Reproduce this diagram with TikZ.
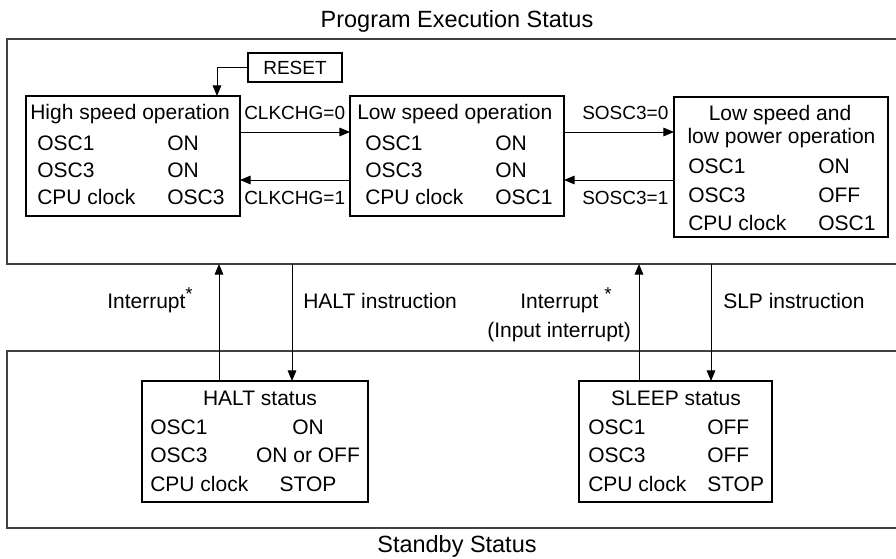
\documentclass[tikz,border=0pt]{standalone}
\usepackage{fontspec}
\setmainfont{Liberation Sans}
\usetikzlibrary{arrows.meta}
\begin{document}
\begin{tikzpicture}[x=0.75pt,y=-0.75pt,
  box/.style={draw,line width=1.4pt,inner sep=0,outer sep=0},
  frame/.style={draw=black!75,line width=0.8pt,inner sep=0,outer sep=0},
  arr/.style={line width=0.75pt,-{Triangle[length=8pt,width=6.5pt]}},
  txt/.style={inner sep=0,anchor=base west,font=\fontsize{15.75pt}{18pt}\selectfont},
  ctxt/.style={txt,anchor=base},
  lbl/.style={inner sep=0,anchor=base west,font=\fontsize{14.25pt}{16pt}\selectfont},
  ttl/.style={inner sep=0,anchor=base,font=\fontsize{17.6pt}{20pt}\selectfont}]
\newcommand{\astk}{{\fontsize{14pt}{14pt}\selectfont\raisebox{5.5pt}{*}}}
\useasboundingbox (0,0) rectangle (896,558);
% frames
\node[frame,minimum width=673.5pt,minimum height=168.75pt] (pes) at (456,151.5) {};
\node[frame,minimum width=673.5pt,minimum height=132.75pt] (sb) at (456,439.5) {};
\node[ttl] (pestitle) at (457,27) {Program Execution Status};
\node[ttl] (sbtitle) at (457,552) {Standby Status};
% boxes
\node[box,minimum width=160.5pt,minimum height=90pt] (hs) at (133,156) {};
\node[box,minimum width=160.5pt,minimum height=90pt] (ls) at (457,156) {};
\node[box,minimum width=160.5pt,minimum height=105pt] (lp) at (781,167) {};
\node[box,line width=1.1pt,minimum width=70.5pt,minimum height=21.75pt] (reset) at (295,67.5) {};
\node[lbl,anchor=center] (resettxt) at (reset.center) {RESET};
\node[box,minimum width=169.5pt,minimum height=90.75pt] (halt) at (255,441.5) {};
\node[box,minimum width=144.75pt,minimum height=90.75pt] (sleep) at (675.5,441.5) {};
% high speed
\node[txt] (hs0) at (30,119) {High speed operation};
\node[txt] (hs1) at (37,150) {OSC1};
\node[txt] (hs2) at (37,177) {OSC3};
\node[txt] (hs3) at (37,204) {CPU clock};
\node[txt] (hs1v) at (167,150) {ON};
\node[txt] (hs2v) at (167,177) {ON};
\node[txt] (hs3v) at (167,204) {OSC3};
% low speed
\node[txt] (ls0) at (357,119) {Low speed operation};
\node[txt] (ls1) at (365,150) {OSC1};
\node[txt] (ls2) at (365,177) {OSC3};
\node[txt] (ls3) at (365,204) {CPU clock};
\node[txt] (ls1v) at (495,150) {ON};
\node[txt] (ls2v) at (495,177) {ON};
\node[txt] (ls3v) at (495,204) {OSC1};
% low power
\node[ctxt] (lp0) at (780,120) {Low speed and};
\node[ctxt] (lp0b) at (781.5,143) {low power operation};
\node[txt] (lp1) at (688,173) {OSC1};
\node[txt] (lp2) at (688,202) {OSC3};
\node[txt] (lp3) at (688,230) {CPU clock};
\node[txt] (lp1v) at (818,173) {ON};
\node[txt] (lp2v) at (818,202) {OFF};
\node[txt] (lp3v) at (818,230) {OSC1};
% halt
\node[ctxt] (h0) at (260,405) {HALT status};
\node[txt] (h1) at (150,434) {OSC1};
\node[txt] (h2) at (150,462) {OSC3};
\node[txt] (h3) at (150,491) {CPU clock};
\node[ctxt] (h1v) at (308,434) {ON};
\node[ctxt] (h2v) at (308,462) {ON or OFF};
\node[ctxt] (h3v) at (308,491) {STOP};
% sleep
\node[ctxt] (s0) at (676,405) {SLEEP status};
\node[txt] (s1) at (588,434) {OSC1};
\node[txt] (s2) at (588,462) {OSC3};
\node[txt] (s3) at (588,491) {CPU clock};
\node[txt] (s1v) at (707,434) {OFF};
\node[txt] (s2v) at (707,462) {OFF};
\node[txt] (s3v) at (707,491) {STOP};
% horizontal connectors
\draw[arr] (hs.east |- 0,132) -- (ls.west |- 0,132);
\draw[arr] (ls.west |- 0,180) -- (hs.east |- 0,180);
\draw[arr] (ls.east |- 0,132) -- (lp.west |- 0,132);
\draw[arr] (lp.west |- 0,180) -- (ls.east |- 0,180);
\node[lbl] (c0) at (244,119) {CLKCHG=0};
\node[lbl] (c1) at (244,204) {CLKCHG=1};
\node[lbl] (o0) at (582,119) {SOSC3=0};
\node[lbl] (o1) at (582,204) {SOSC3=1};
% reset
\draw[arr] (reset.west) -- (reset.west -| 217,0) -- (hs.north -| 217,0);
% vertical connectors
\draw[arr] (halt.north -| 219,0) -- (pes.south -| 219,0);
\draw[arr] (pes.south -| 292,0) -- (halt.north -| 292,0);
\draw[arr] (sleep.north -| 639,0) -- (pes.south -| 639,0);
\draw[arr] (pes.south -| 711,0) -- (sleep.north -| 711,0);
\node[txt] (i1) at (107,308) {Interrupt\astk};
\node[txt] (hi) at (303,308) {HALT instruction};
\node[txt] (i2) at (520,308) {Interrupt \astk};
\node[txt] (i2b) at (487,337) {(Input interrupt)};
\node[txt] (si) at (723,308) {SLP instruction};
\end{tikzpicture}
\end{document}
